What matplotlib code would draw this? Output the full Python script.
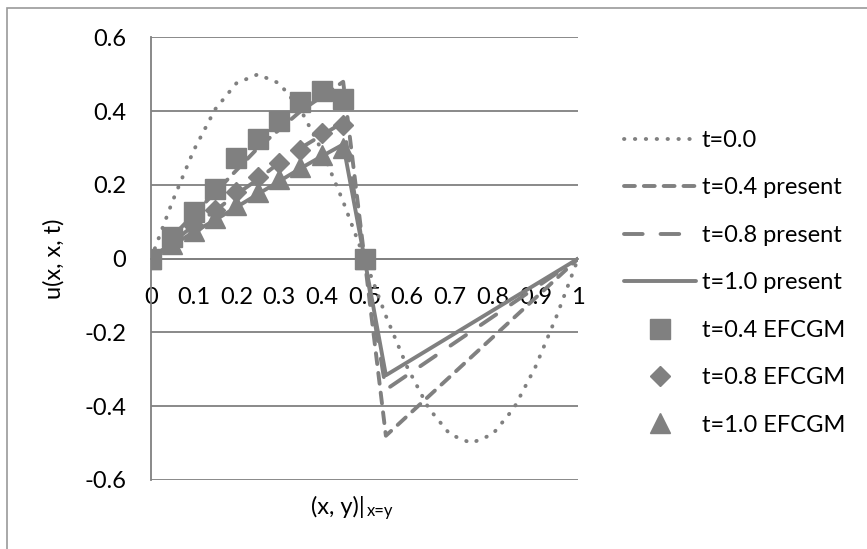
import matplotlib.pyplot as plt
from matplotlib.patches import Rectangle

plt.rcParams['font.family'] = ['Lato', 'DejaVu Sans']

# x positions along the diagonal
x_init = [0, 0.05, 0.1, 0.15, 0.2, 0.25, 0.3, 0.35, 0.4, 0.45, 0.5,
          0.55, 0.6, 0.65, 0.7, 0.75, 0.8, 0.85, 0.9, 0.95, 1.0]
u_t00 = [0, 0.155, 0.294, 0.405, 0.476, 0.5, 0.476, 0.405, 0.294, 0.155, 0,
         -0.155, -0.294, -0.405, -0.476, -0.5, -0.476, -0.405, -0.294, -0.155, 0]

x_line = [0, 0.05, 0.1, 0.15, 0.2, 0.25, 0.3, 0.35, 0.4, 0.45, 0.5, 0.55, 1.0]
u_t04 = [0, 0.06, 0.12, 0.18, 0.24, 0.30, 0.35, 0.40, 0.44, 0.48, 0, -0.48, 0]
u_t08 = [0, 0.045, 0.09, 0.13, 0.175, 0.215, 0.26, 0.30, 0.335, 0.37, 0, -0.355, 0]
u_t10 = [0, 0.037, 0.072, 0.105, 0.14, 0.175, 0.21, 0.245, 0.278, 0.31, 0, -0.316, 0]

x_pts = [0, 0.05, 0.1, 0.15, 0.2, 0.25, 0.3, 0.35, 0.4, 0.45, 0.5]
ef_t04 = [0, 0.06, 0.127, 0.19, 0.272, 0.326, 0.373, 0.425, 0.454, 0.434, 0]
ef_t08 = [0, 0.05, 0.09, 0.132, 0.18, 0.222, 0.26, 0.295, 0.34, 0.363, 0]
ef_t10 = [0, 0.04, 0.075, 0.11, 0.145, 0.18, 0.215, 0.25, 0.28, 0.30, 0]

grey = '#808080'
fs = 17

fig = plt.figure(figsize=(8.67, 5.49), dpi=100)
ax = fig.add_axes([0.1742, 0.1257, 0.4925, 0.806])

# outer chart border
fig.patches.append(Rectangle((7 / 867, -0.05), 1.2, 1 - 8 / 549 + 0.05,
                             transform=fig.transFigure, fill=False,
                             edgecolor='#9a9a9a', linewidth=1.2))

lw = 2.8
ax.plot(x_init, u_t00, color=grey, lw=lw, linestyle=(0, (0.1, 2.7)),
        dash_capstyle='round', label='t=0.0')
ax.plot(x_line, u_t04, color=grey, lw=lw, linestyle=(0, (2.8, 2.3)),
        dash_capstyle='round', label='t=0.4 present')
ax.plot(x_line, u_t08, color=grey, lw=lw, linestyle=(0, (4.8, 4.6)),
        dash_capstyle='round', label='t=0.8 present')
ax.plot(x_line, u_t10, color=grey, lw=lw, solid_capstyle='round',
        label='t=1.0 present')
ax.plot(x_pts, ef_t04, 's', color=grey, ms=14, label='t=0.4 EFCGM')
ax.plot(x_pts, ef_t08, 'D', color=grey, ms=10, label='t=0.8 EFCGM')
ax.plot(x_pts, ef_t10, '^', color=grey, ms=14, label='t=1.0 EFCGM')

ax.set_xlim(0, 1)
ax.set_ylim(-0.6, 0.6)
ax.set_yticks([-0.6, -0.4, -0.2, 0, 0.2, 0.4, 0.6])
ax.set_yticklabels(['-0.6', '-0.4', '-0.2', '0', '0.2', '0.4', '0.6'])
ax.set_xticks([0, 0.1, 0.2, 0.3, 0.4, 0.5, 0.6, 0.7, 0.8, 0.9, 1.0])
ax.set_xticklabels(['0', '0.1', '0.2', '0.3', '0.4', '0.5', '0.6', '0.7',
                    '0.8', '0.9', '1'])
ax.grid(axis='y', color=grey, lw=1.3)
ax.set_axisbelow(True)
ax.tick_params(length=0, labelsize=fs)
ax.tick_params(axis='y', pad=18)
ax.tick_params(axis='x', pad=20)
ax.spines['bottom'].set_position(('data', 0))
ax.spines['bottom'].set_color(grey)
ax.spines['bottom'].set_linewidth(1.3)
ax.spines['left'].set_color(grey)
ax.spines['left'].set_linewidth(1.3)
ax.spines['top'].set_visible(False)
ax.spines['right'].set_visible(False)

ax.set_ylabel('u(x, x, t)', fontsize=fs, labelpad=14)
ax.text(0.5, -0.062, '(x, y)|', transform=ax.transAxes, fontsize=fs,
        ha='right', va='center')
ax.text(0.505, -0.07, 'x=y', transform=ax.transAxes, fontsize=12,
        ha='left', va='center')

ax.legend(loc='upper left', bbox_to_anchor=(624 / 867, 1 - 130 / 549),
          bbox_transform=fig.transFigure, frameon=False, fontsize=fs,
          handlelength=3.05, handletextpad=0.25, labelspacing=1.12,
          borderpad=0, borderaxespad=0)

fig.savefig('out.png', dpi=100)
